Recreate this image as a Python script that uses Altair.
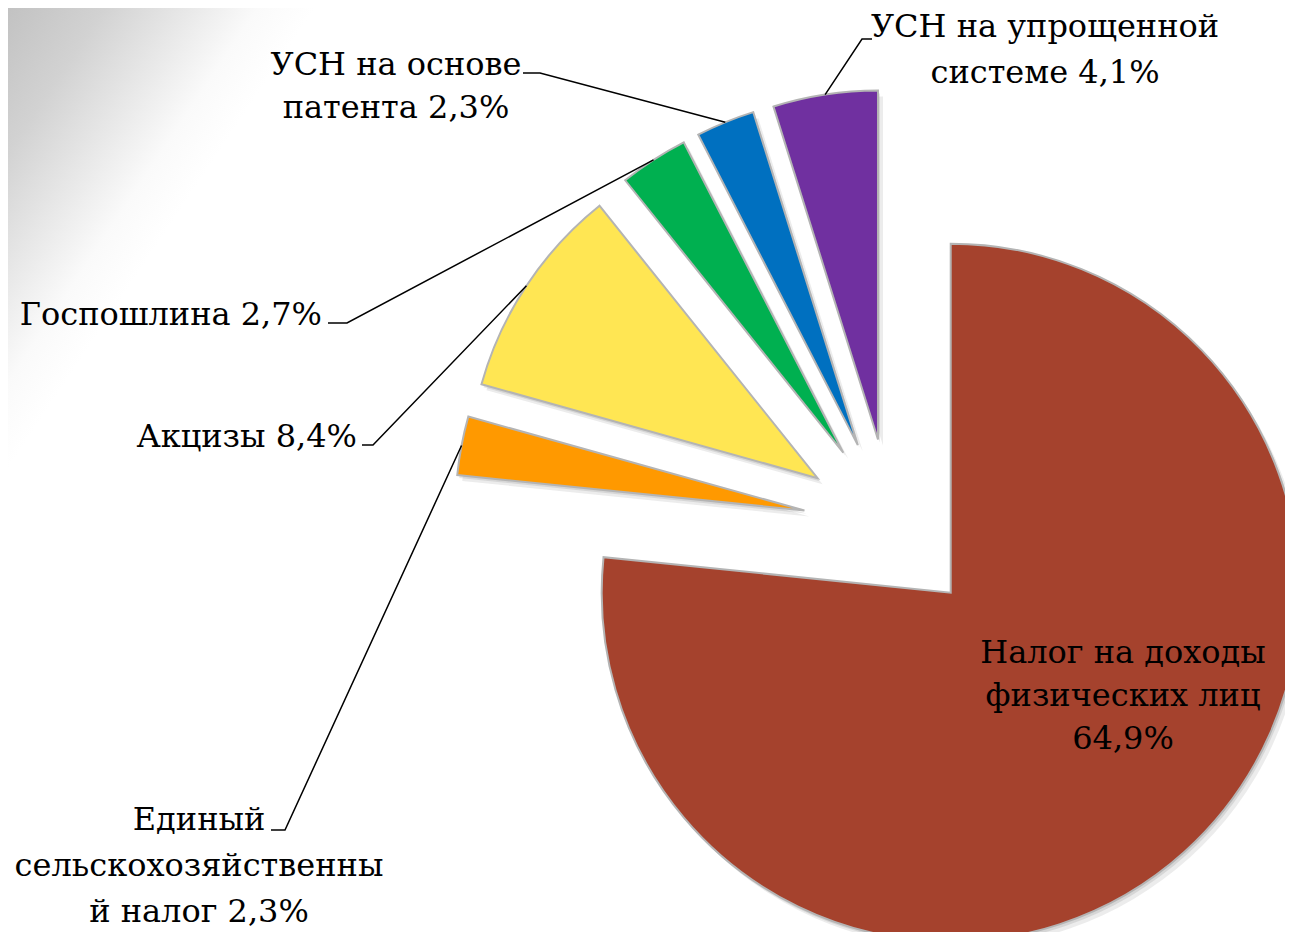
import math
import altair as alt
import pandas as pd

# ---------------- data ----------------
names = [
    "Налог на доходы физических лиц",
    "Единый сельскохозяйственный налог",
    "Акцизы",
    "Госпошлина",
    "УСН на основе патента",
    "УСН на упрощенной системе",
]
values = [64.9, 2.3, 8.4, 2.7, 2.3, 4.1]
label_heads = [
    ["Налог на доходы", "физических лиц", ""],
    ["Единый", "сельскохозяйственны", "й налог "],
    ["Акцизы  "],
    ["Госпошлина  "],
    ["УСН на основе", "патента "],
    ["УСН на упрощенной", "системе "],
]
colors = ["#A5422D", "#FF9900", "#FFE653", "#00B050", "#0070C0", "#7030A0"]

# ---------------- layout ----------------
W, H = 1277, 924
ORIGIN = 8
CENTER = (891.4, 527.0)
EXPLODE = 88.5
RADIUS = 349
FONT = "DejaVu Serif"
FSIZE = 32
label_anchor = [(1123, 663, "center"), (199, 830, "center"), (357, 447, "right"),
                (322, 325, "right"), (396, 75, "center"), (1045, 37, "center")]
line_gap = [43, 46, 0, 0, 43, 46]
leader_elbow = [None, ((271, 830), (285, 830)), ((362, 445), (373, 445)),
                ((328, 323), (347, 323)), ((523, 73), (540, 73)), ((872, 39), (862, 39))]


def pct(v):
    return f"{v:.1f}".replace(".", ",") + "%"


total = sum(values)
slices, leaders, texts = [], [], []
cum = 0.0
for i, (n, v) in enumerate(zip(names, values)):
    t0 = cum / total
    t1 = (cum + v) / total
    cum += v
    mid = (t0 + t1) * math.pi
    dx, dy = math.sin(mid), -math.cos(mid)
    cx = CENTER[0] + EXPLODE * dx
    cy = CENTER[1] + EXPLODE * dy
    slices.append(dict(name=n, t0=t0, t1=t1, cx=cx, cy=cy,
                       s1x=cx + 2, s1y=cy + 3, s2x=cx + 5, s2y=cy + 6))
    ox = CENTER[0] + (EXPLODE + RADIUS) * dx
    oy = CENTER[1] + (EXPLODE + RADIUS) * dy
    if leader_elbow[i] is not None:
        (ax, ay), (bx, by) = leader_elbow[i]
        leaders += [dict(name=n, k=0, x=ax, y=ay), dict(name=n, k=1, x=bx, y=by),
                    dict(name=n, k=2, x=ox, y=oy)]
    lx, ly, al = label_anchor[i]
    lines = list(label_heads[i])
    lines[-1] = lines[-1] + pct(v)
    for j, t in enumerate(lines):
        texts.append(dict(name=n, text=t, x=lx, y=ly + j * line_gap[i], align=al))

sdf = pd.DataFrame(slices)
ldf = pd.DataFrame(leaders)
tdf = pd.DataFrame(texts)

xs = alt.Scale(domain=[ORIGIN, ORIGIN + W], nice=False, zero=False)
ys = alt.Scale(domain=[ORIGIN, ORIGIN + H], nice=False, zero=False, reverse=True)
theta_scale = alt.Scale(domain=[0, 1], range=[0, 2 * math.pi])

bg = alt.Chart(pd.DataFrame({"a": [0]})).mark_rect(
    fill=alt.Gradient(
        gradient="linear", x1=0, y1=0, x2=1, y2=1,
        stops=[alt.GradientStop(color="#c2c2c2", offset=0),
               alt.GradientStop(color="#d2d2d2", offset=0.1),
               alt.GradientStop(color="#ebebeb", offset=0.2),
               alt.GradientStop(color="#fafafa", offset=0.26),
               alt.GradientStop(color="#ffffff", offset=0.32)]),
).encode(x=alt.value(0), x2=alt.value(480), y=alt.value(0), y2=alt.value(720))

def shadow(xf, yf, op):
    return alt.Chart(sdf).mark_arc(outerRadius=RADIUS, fill="#606060", opacity=op).encode(
        x=alt.X(f"{xf}:Q", scale=xs, axis=None),
        y=alt.Y(f"{yf}:Q", scale=ys, axis=None),
        theta=alt.Theta("t0:Q", scale=theta_scale),
        theta2="t1:Q",
    )

arcs = alt.Chart(sdf).mark_arc(outerRadius=RADIUS, stroke="#b4b4b4", strokeWidth=2).encode(
    x=alt.X("cx:Q", scale=xs, axis=None),
    y=alt.Y("cy:Q", scale=ys, axis=None),
    theta=alt.Theta("t0:Q", scale=theta_scale),
    theta2="t1:Q",
    color=alt.Color("name:N", scale=alt.Scale(domain=names, range=colors), legend=None),
)

lead = alt.Chart(ldf).mark_line(color="black", strokeWidth=1.5).encode(
    x=alt.X("x:Q", scale=xs, axis=None),
    y=alt.Y("y:Q", scale=ys, axis=None),
    detail="name:N",
    order="k:Q",
)

def text_layer(al):
    return alt.Chart(tdf).transform_filter(alt.datum.align == al).mark_text(
        align=al, baseline="alphabetic", font=FONT, fontSize=FSIZE, color="black"
    ).encode(
        x=alt.X("x:Q", scale=xs, axis=None),
        y=alt.Y("y:Q", scale=ys, axis=None),
        text="text:N",
    )

chart = alt.layer(
    bg, shadow("s2x", "s2y", 0.12), shadow("s1x", "s1y", 0.15), arcs, lead,
    text_layer("center"), text_layer("right")
).properties(
    width=W, height=H, padding=0, background="white",
    autosize=alt.AutoSizeParams(type="none"),
).configure_view(strokeWidth=0)

chart.save("out.html", embed_options={"renderer": "svg", "actions": False})
